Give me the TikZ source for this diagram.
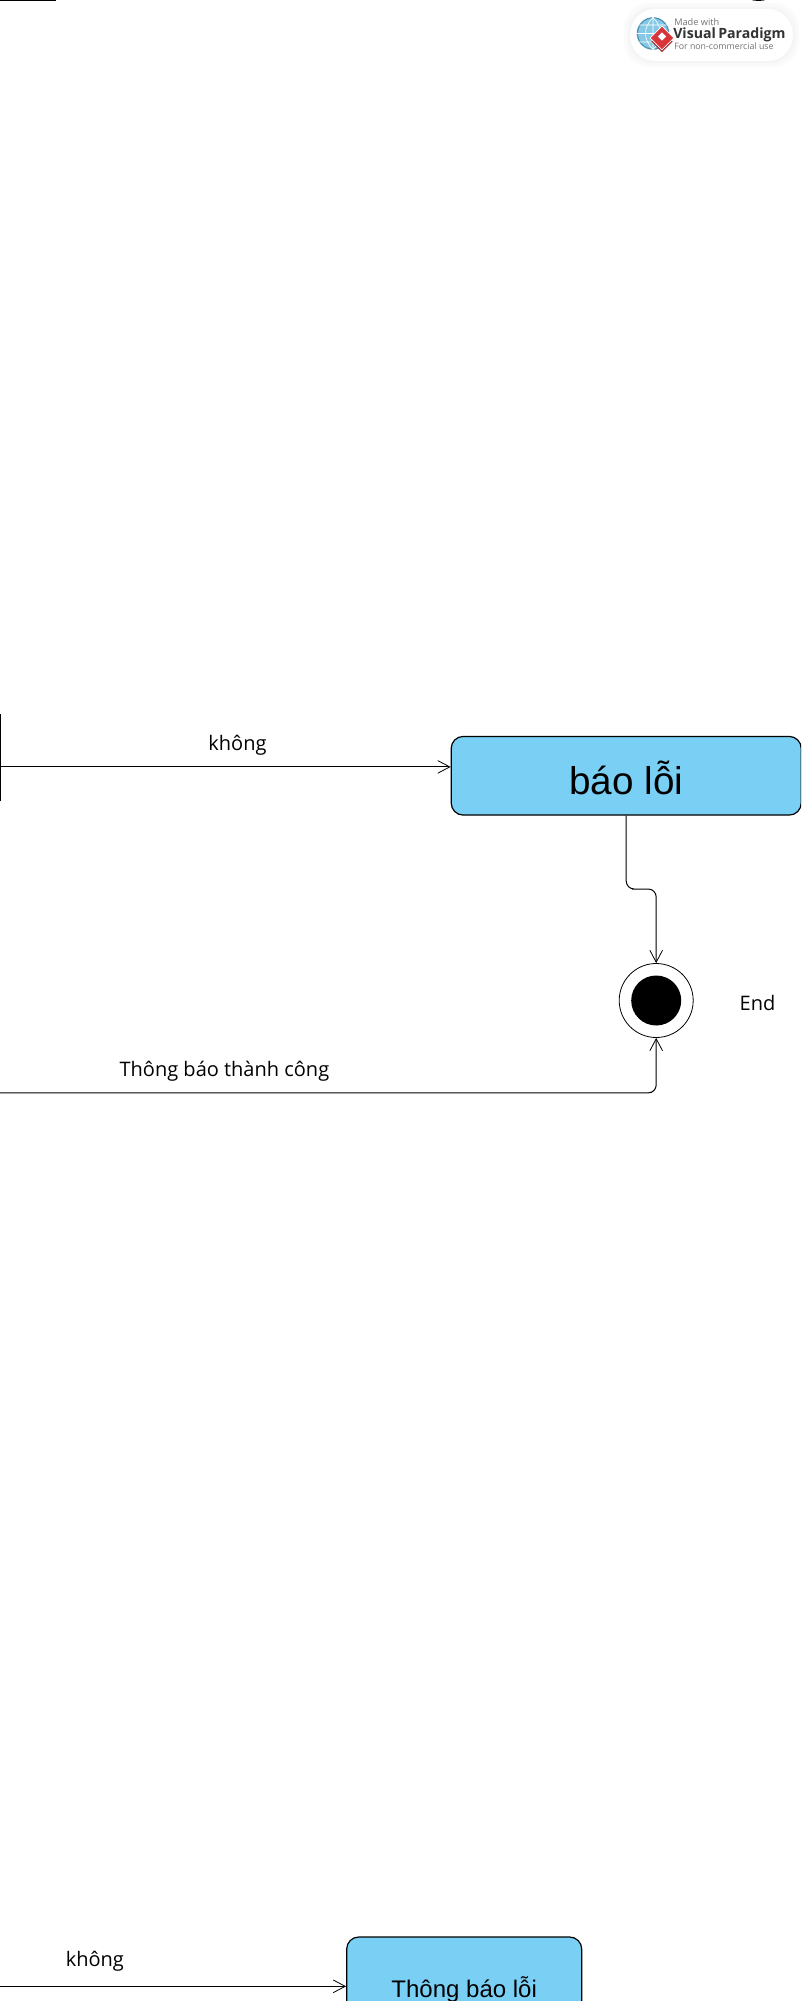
\documentclass[tikz,border=0pt]{standalone}
\usepackage{fontspec}
\setmainfont{Open Sans}
\newfontfamily\boxfont{Liberation Sans}
\RequirePackage{xcolor}
\usetikzlibrary{shapes,arrows.meta}
\definecolor{stateblue}{HTML}{7ACFF5}
\definecolor{globeblue}{HTML}{5DB7DE}
\definecolor{logored}{HTML}{D8343A}
\tikzstyle{statebox} = [rectangle,rounded corners=9pt,inner sep=0pt,text centered,text depth=0pt,draw=black,fill=stateblue,line width=0.9pt]
\tikzstyle{bar} = [rectangle,inner sep=0pt,fill=black]
\tikzstyle{arrow} = [line width=0.75pt,rounded corners=6pt,-{Straight Barb[length=9pt,width=9.5pt,line width=0.6pt]}]
\tikzstyle{edgelabel} = [anchor=base,inner sep=0pt,font=\fontsize{15}{18}\selectfont]
\tikzstyle{logotext} = [anchor=base west,inner sep=0pt,text=black!55]

\begin{document}
\begin{tikzpicture}[x=0.75pt,y=-0.75pt,node distance=56.25pt]
\clip (0,0) rectangle (801,2001);
\fill [white] (0,0) rectangle (801,2001);

\node (topbar) [bar,minimum width=84pt,minimum height=2.2pt] at (0,0) {};
\node (blob) [circle,fill=black,inner sep=0pt,minimum size=37.5pt] at (758.5,-24) {};

% upper part
\node (errbox) [statebox,minimum width=262.5pt,minimum height=59pt,text height=27.4pt,font=\boxfont\fontsize{29}{32}\selectfont] at (626.2,775.75) {báo lỗi};
\node (forkbar) [bar,minimum width=1.6pt,minimum height=65pt] at (0,757.5) {};
\node (final) [circle,draw=black,line width=0.6pt,fill=white,inner sep=0pt,minimum size=55.5pt] at (656.2,1000.5) {};
\node (finaldot) [circle,fill=black,inner sep=0pt,minimum size=37.5pt] at (final.center) {};
\node (endlabel) [right of=final,xshift=19.7pt,yshift=-1.7pt,inner sep=0pt,font=\fontsize{15}{18}\selectfont] {End};
\coordinate (forkout) at (0,766.9);
\coordinate (bend) at (640,889);
\coordinate (okstart) at (0,1092.9);

% lower part
\node (msgbox) [statebox,minimum width=176.25pt,minimum height=90pt,text height=0pt,font=\boxfont\fontsize{18}{20}\selectfont] at (464.2,1997) {Thông báo lỗi};
\coordinate (lowstart) at (0,1986.3);

\draw [arrow] (forkout) -- node[edgelabel,pos=0.527,yshift=12.5pt] {không} (forkout -| errbox.west);
\draw [arrow] (errbox.south) |- (bend) -| (final.north);
\draw [arrow] (okstart) -| node[edgelabel,pos=0.171,yshift=12.5pt] {Thông báo thành công} (final.south);
\draw [arrow] (lowstart) -- node[edgelabel,pos=0.274,yshift=14.8pt] {không} (lowstart -| msgbox.west);

% logo
\foreach \g/\o in {6/1.5,4/2.5,2/4}
  \fill [black!\o,rounded corners=19pt] (630-\g,9-\g) rectangle (793+\g,61+\g);
\node (logobg) [rectangle,rounded corners=19pt,fill=white,minimum width=122pt,minimum height=39pt,inner sep=0pt] at (711.5,35) {};
\node (globe) [circle,draw=globeblue!80!black,line width=0.9pt,fill=globeblue!75,inner sep=0pt,minimum size=23.5pt] at (653,33.5) {};
\draw [white,line width=0.45pt] (globe.north) -- (globe.south) (globe.west) -- (globe.east)
  (638,25) -- (668,25) (638,42) -- (668,42) (globe.north) .. controls (643,28) and (643,39) .. (globe.south) (globe.north) .. controls (663,28) and (663,39) .. (globe.south);
\node (diamondlow) [diamond,fill=logored!75!black,inner sep=0pt,minimum size=16pt] at (662,41.5) {};
\node (diamond) [diamond,fill=logored,draw=white,line width=0.5pt,inner sep=0pt,minimum size=18pt] at (662,38) {};
\node (diamondin) [diamond,fill=white,inner sep=0pt,minimum size=6.5pt] at (662,36.5) {};
\node (madewith) [logotext,font=\fontsize{6.9}{8}\selectfont] at (674,26) {Made with};
\node (vpname) [logotext,text=black!80,font=\bfseries\fontsize{10.6}{12}\selectfont] at (673,39) {Visual\hspace{-1pt} Paradigm};
\node (vpnote) [logotext,font=\fontsize{6.6}{8}\selectfont] at (674,50) {For non-commercial use};
\end{tikzpicture}
\end{document}
